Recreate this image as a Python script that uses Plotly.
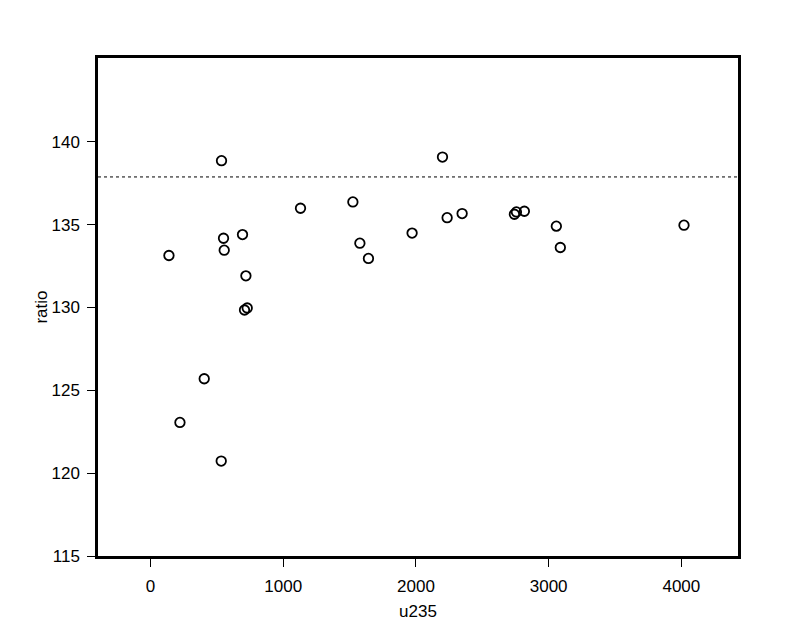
import plotly.graph_objects as go

# Data
u235 = [534.8, 138.6, 549.9, 555.2, 693.0, 718.6, 708.0, 728.4, 1130.0, 1524.7,
        1577.4, 1642.0, 404.5, 221.5, 532.6, 1971.0, 2200.0, 2235.0, 2348.0,
        2742.0, 2757.0, 2817.0, 3058.0, 3088.0, 4020.0]
ratio = [138.86, 133.14, 134.18, 133.46, 134.40, 131.91, 129.85, 129.97, 135.99, 136.37,
         133.88, 132.96, 125.70, 123.06, 120.73, 134.49, 139.08, 135.42, 135.67,
         135.63, 135.77, 135.81, 134.91, 133.62, 134.97]
reference_ratio = 137.88
x_ticks = [0, 1000, 2000, 3000, 4000]
y_ticks = [115, 120, 125, 130, 135, 140]

FONT = "Liberation Sans, Arial, sans-serif"

fig = go.Figure()
fig.add_trace(go.Scatter(
    x=u235, y=ratio, mode="markers",
    marker=dict(symbol="circle-open", size=9.5, color="black", line=dict(width=1.8)),
    showlegend=False, hoverinfo="x+y"))

fig.add_hline(y=reference_ratio, line=dict(color="black", width=1, dash="3px,3px"))

fig.update_layout(
    width=777, height=636,
    margin=dict(l=90, r=47, t=50, b=88, autoexpand=False),
    paper_bgcolor="white", plot_bgcolor="white",
    font=dict(family=FONT, size=17, color="black"),
    xaxis=dict(
        range=[-396, 4427], tickmode="array", tickvals=x_ticks,
        ticktext=[str(v) for v in x_ticks],
        ticks="outside", ticklen=8, tickwidth=1.2, tickcolor="black",
        showgrid=False, zeroline=False, showline=True, linewidth=2.5,
        linecolor="black", mirror=True, ticklabelstandoff=5,
        title=dict(text="u235", standoff=10, font=dict(size=17)),
        automargin=False),
    yaxis=dict(
        range=[115, 145.06], tickmode="array", tickvals=y_ticks,
        ticktext=[str(v) for v in y_ticks],
        ticks="outside", ticklen=8, tickwidth=1.2, tickcolor="black",
        showgrid=False, zeroline=False, showline=True, linewidth=2.5,
        linecolor="black", mirror=True, ticklabelstandoff=4,
        title=dict(text="ratio", standoff=0, font=dict(size=17)),
        automargin=False),
)

fig.write_html("out.html")
